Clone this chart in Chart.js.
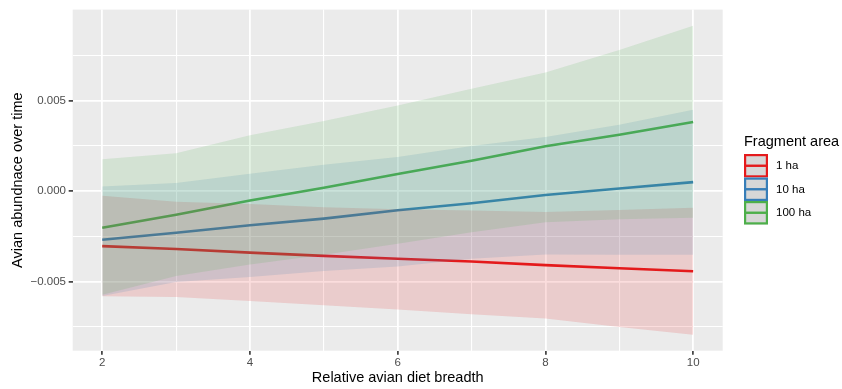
<!DOCTYPE html>
<html>
<head>
<meta charset="utf-8">
<script src="https://cdn.jsdelivr.net/npm/chart.js@4.4.1/dist/chart.umd.min.js"></script>
<style>
  html, body { margin: 0; padding: 0; background: #ffffff; }
  #wrap { width: 842px; height: 389px; position: relative; }
</style>
</head>
<body>
<div id="wrap"><canvas id="c" width="842" height="389"></canvas></div>
<script>
// ---- data ----
const xValues = [2, 3, 4, 5, 6, 7, 8, 9, 10];

const seriesNames = ['1 ha', '10 ha', '100 ha'];

const fit1ha   = [-0.00304, -0.00320, -0.00340, -0.00358, -0.00374, -0.00389, -0.00409, -0.00426, -0.00443];
const low1ha   = [-0.00581, -0.00585, -0.00607, -0.00630, -0.00654, -0.00680, -0.00703, -0.00750, -0.00793];
const high1ha  = [-0.00026, -0.00059, -0.00071, -0.00090, -0.00101, -0.00108, -0.00115, -0.00104, -0.00092];

const fit10ha  = [-0.00269, -0.00230, -0.00189, -0.00152, -0.00106, -0.00067, -0.00022, 0.00014, 0.00049];
const low10ha  = [-0.00580, -0.00502, -0.00475, -0.00442, -0.00416, -0.00374, -0.00350, -0.00351, -0.00352];
const high10ha = [0.00025, 0.00044, 0.00095, 0.00145, 0.00188, 0.00249, 0.00298, 0.00366, 0.00449];

const fit100ha  = [-0.00203, -0.00131, -0.00052, 0.00018, 0.00094, 0.00167, 0.00247, 0.00311, 0.00381];
const low100ha  = [-0.00572, -0.00469, -0.00405, -0.00352, -0.00291, -0.00227, -0.00172, -0.00156, -0.00147];
const high100ha = [0.00176, 0.00209, 0.00308, 0.00386, 0.00472, 0.00564, 0.00655, 0.00778, 0.00912];

const xTickValues = [2, 4, 6, 8, 10];
const xTickLabels = ['2', '4', '6', '8', '10'];
const xMinorValues = [3, 5, 7, 9];
const yTickValues = [-0.005, 0, 0.005];
const yTickLabels = ['\u22120.005', '0.000', '0.005'];
const yMinorValues = [-0.0075, -0.0025, 0.0025, 0.0075];

const xTitle = 'Relative avian diet breadth';
const yTitle = 'Avian abundnace over time';
const legendTitle = 'Fragment area';

// ---- styling ----
const colors = ['#E41A1C', '#377EB8', '#4DAF4A'];
const fills = ['rgba(228,26,28,0.15)', 'rgba(55,126,184,0.15)', 'rgba(77,175,74,0.15)'];
const FONT = '"Liberation Sans", Arial, Helvetica, sans-serif';

const fits = [fit1ha, fit10ha, fit100ha];
const lows = [low1ha, low10ha, low100ha];
const highs = [high1ha, high10ha, high100ha];

const pts = arr => xValues.map((x, i) => ({ x: x, y: arr[i] }));

const datasets = [];
// ribbons: red drawn first, green on top; lines below all ribbons
seriesNames.forEach((name, k) => {
  const ord = 30 - k * 10;
  datasets.push({
    label: name + ' low', data: pts(lows[k]), borderWidth: 0, pointRadius: 0,
    fill: false, order: ord, borderColor: 'rgba(0,0,0,0)'
  });
  datasets.push({
    label: name + ' high', data: pts(highs[k]), borderWidth: 0, pointRadius: 0,
    fill: '-1', backgroundColor: fills[k], order: ord, borderColor: 'rgba(0,0,0,0)'
  });
});
seriesNames.forEach((name, k) => {
  datasets.push({
    label: name, data: pts(fits[k]), borderColor: colors[k], borderWidth: 2.6,
    pointRadius: 0, fill: false, order: 100, borderCapStyle: 'butt'
  });
});

const isIn = (v, arr) => arr.some(a => Math.abs(a - v) < 1e-9);

const panelBg = {
  id: 'panelBg',
  beforeDraw(chart) {
    const { ctx, chartArea: a } = chart;
    ctx.save();
    ctx.fillStyle = '#EBEBEB';
    ctx.fillRect(a.left, a.top, a.right - a.left, a.bottom - a.top);
    ctx.restore();
  }
};

const legendPlugin = {
  id: 'ggLegend',
  afterDraw(chart) {
    const ctx = chart.ctx;
    ctx.save();
    ctx.fillStyle = '#000000';
    ctx.font = '14.5px ' + FONT;
    ctx.textBaseline = 'alphabetic';
    ctx.textAlign = 'left';
    ctx.fillText(legendTitle, 744, 146);
    const kx = 744, kw = 24, kh = 23.5;
    seriesNames.forEach((name, i) => {
      const ky = 154 + i * kh;
      ctx.fillStyle = '#D7D7D7';
      ctx.fillRect(kx, ky, kw, kh);
      ctx.strokeStyle = colors[i];
      ctx.lineWidth = 2.2;
      ctx.strokeRect(kx + 1.1, ky + 1.1, kw - 2.2, kh - 2.2);
      ctx.beginPath();
      ctx.moveTo(kx, ky + kh / 2);
      ctx.lineTo(kx + kw, ky + kh / 2);
      ctx.lineWidth = 2.4;
      ctx.stroke();
      ctx.fillStyle = '#000000';
      ctx.font = '11.5px ' + FONT;
      ctx.textBaseline = 'middle';
      ctx.fillText(name, 776, ky + kh / 2 + 0.5);
      ctx.textBaseline = 'alphabetic';
    });
    ctx.restore();
  }
};

new Chart(document.getElementById('c'), {
  type: 'line',
  data: { datasets: datasets },
  plugins: [panelBg, legendPlugin],
  options: {
    responsive: false,
    animation: false,
    devicePixelRatio: 1,
    layout: { padding: { left: 0, right: 119.3, top: 8, bottom: 0 } },
    plugins: { legend: { display: false }, tooltip: { enabled: false }, filler: { propagate: false } },
    elements: { line: { tension: 0 } },
    scales: {
      x: {
        type: 'linear', min: 1.6, max: 10.4,
        afterFit(s) { s.height = 38.3; },
        afterBuildTicks(s) {
          s.ticks = xTickValues.concat(xMinorValues).sort((a, b) => a - b).map(v => ({ value: v }));
        },
        ticks: {
          autoSkip: false, maxRotation: 0, padding: 1,
          color: '#4D4D4D', font: { family: FONT, size: 11.5 },
          callback(v) { const i = xTickValues.indexOf(v); return i >= 0 ? xTickLabels[i] : ''; }
        },
        grid: {
          color: '#FFFFFF',
          lineWidth: c => isIn(c.tick.value, xMinorValues) ? 1.1 : 1.8,
          tickColor: c => isIn(c.tick.value, xMinorValues) ? 'rgba(0,0,0,0)' : '#333333',
          tickLength: 4, tickWidth: 1.6, drawTicks: true
        },
        border: { display: false },
        title: {
          display: true, text: xTitle, color: '#000000',
          font: { family: FONT, size: 14.5 }, padding: { top: 0, bottom: 2.5 }
        }
      },
      y: {
        type: 'linear', min: -0.008813, max: 0.010016,
        afterFit(s) { s.width = 72.7; },
        afterBuildTicks(s) {
          s.ticks = yTickValues.concat(yMinorValues).sort((a, b) => a - b).map(v => ({ value: v }));
        },
        ticks: {
          autoSkip: false, padding: 2.7,
          color: '#4D4D4D', font: { family: FONT, size: 11.5 },
          callback(v) {
            const i = yTickValues.findIndex(t => Math.abs(t - v) < 1e-9);
            return i >= 0 ? yTickLabels[i] : '';
          }
        },
        grid: {
          color: '#FFFFFF',
          lineWidth: c => isIn(c.tick.value, yMinorValues) ? 1.1 : 1.8,
          tickColor: c => isIn(c.tick.value, yMinorValues) ? 'rgba(0,0,0,0)' : '#333333',
          tickLength: 4, tickWidth: 1.6, drawTicks: true
        },
        border: { display: false },
        title: {
          display: true, text: yTitle, color: '#000000',
          font: { family: FONT, size: 14.5 }, padding: { top: 9, bottom: 0 }
        }
      }
    }
  }
});
</script>
</body>
</html>
